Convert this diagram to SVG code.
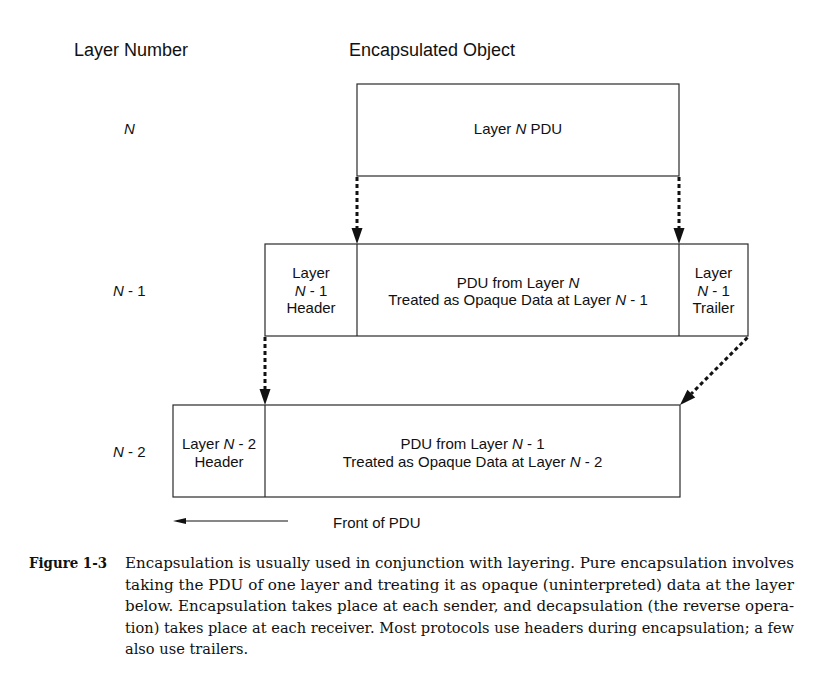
<svg xmlns="http://www.w3.org/2000/svg" width="820" height="679" viewBox="0 0 820 679">
<style>
  .bg { fill: #ffffff; }
  .box { fill: #ffffff; stroke: #2a2a2a; stroke-width: 1.2; }
  .div { stroke: #2a2a2a; stroke-width: 1.2; }
  .t { font-family: "Liberation Sans", Arial, sans-serif; font-size: 15px; fill: #111; }
  .h { font-family: "Liberation Sans", Arial, sans-serif; font-size: 18px; fill: #111; }
  .c { text-anchor: middle; }
  .i { font-style: italic; }
  .dot { fill: none; stroke: #111; stroke-width: 3; stroke-dasharray: 4 3; }
  .thin { fill: none; stroke: #111; stroke-width: 1.2; }
  .cap { font-family: "DejaVu Serif", "Liberation Serif", serif; font-size: 14.6px; fill: #111; }
  .capb { font-weight: bold; }
</style>
<defs>
  <marker id="head" markerUnits="userSpaceOnUse" markerWidth="16" markerHeight="12" refX="0" refY="5.5" orient="auto" overflow="visible">
    <path d="M0,0 L16,5.5 L0,11 Z" fill="#111"/>
  </marker>
  <marker id="small" markerUnits="userSpaceOnUse" markerWidth="13" markerHeight="7" refX="0" refY="3" orient="auto" overflow="visible">
    <path d="M0,0 L13,3 L0,6 Z" fill="#111"/>
  </marker>
</defs>
<rect class="bg" x="0" y="0" width="820" height="679"/>

<g id="headings">
  <text class="h" x="74" y="56">Layer Number</text>
  <text class="h" x="349" y="56">Encapsulated Object</text>
</g>

<g id="row-labels">
  <text class="t i" x="124" y="134">N</text>
  <text class="t" x="113" y="296"><tspan class="i">N</tspan> - 1</text>
  <text class="t" x="113" y="457"><tspan class="i">N</tspan> - 2</text>
</g>

<g id="layer-n">
  <rect class="box" x="357" y="84" width="322" height="92"/>
  <text class="t c" x="518" y="134">Layer <tspan class="i">N</tspan> PDU</text>
</g>

<g id="layer-n-1">
  <rect class="box" x="265" y="244" width="483" height="92"/>
  <line class="div" x1="357" y1="244" x2="357" y2="336"/>
  <line class="div" x1="679" y1="244" x2="679" y2="336"/>
  <text class="t c" x="311" y="278">Layer</text>
  <text class="t c" x="311" y="295.5"><tspan class="i">N</tspan> - 1</text>
  <text class="t c" x="311" y="313">Header</text>
  <text class="t c" x="518" y="287.5">PDU from Layer <tspan class="i">N</tspan></text>
  <text class="t c" x="518" y="305">Treated as Opaque Data at Layer <tspan class="i">N</tspan> - 1</text>
  <text class="t c" x="713.5" y="278">Layer</text>
  <text class="t c" x="713.5" y="295.5"><tspan class="i">N</tspan> - 1</text>
  <text class="t c" x="713.5" y="313">Trailer</text>
</g>

<g id="layer-n-2">
  <rect class="box" x="173" y="405" width="507" height="92"/>
  <line class="div" x1="265" y1="405" x2="265" y2="497"/>
  <text class="t c" x="219" y="449">Layer <tspan class="i">N</tspan> - 2</text>
  <text class="t c" x="219" y="466.5">Header</text>
  <text class="t c" x="472.5" y="449">PDU from Layer <tspan class="i">N</tspan> - 1</text>
  <text class="t c" x="472.5" y="466.5">Treated as Opaque Data at Layer <tspan class="i">N</tspan> - 2</text>
</g>

<g id="connectors">
  <line class="dot" x1="357" y1="177" x2="357" y2="228" marker-end="url(#head)"/>
  <line class="dot" x1="679" y1="177" x2="679" y2="228" marker-end="url(#head)"/>
  <line class="dot" x1="265" y1="337" x2="265" y2="389" marker-end="url(#head)"/>
  <line class="dot" x1="747.5" y1="337.5" x2="691.3" y2="393.7" marker-end="url(#head)"/>
</g>

<g id="front-of-pdu">
  <line class="thin" x1="288" y1="521" x2="186" y2="521" marker-end="url(#small)"/>
  <text class="t" x="333" y="528">Front of PDU</text>
</g>

<g id="caption">
  <text class="cap capb" x="29" y="568" textLength="78" lengthAdjust="spacingAndGlyphs">Figure 1-3</text>
  <text class="cap" x="125" y="568" textLength="669" lengthAdjust="spacingAndGlyphs">Encapsulation is usually used in conjunction with layering. Pure encapsulation involves</text>
  <text class="cap" x="125" y="589.5" textLength="669" lengthAdjust="spacingAndGlyphs">taking the PDU of one layer and treating it as opaque (uninterpreted) data at the layer</text>
  <text class="cap" x="125" y="611" textLength="669" lengthAdjust="spacingAndGlyphs">below. Encapsulation takes place at each sender, and decapsulation (the reverse opera-</text>
  <text class="cap" x="125" y="632.5" textLength="669" lengthAdjust="spacingAndGlyphs">tion) takes place at each receiver. Most protocols use headers during encapsulation; a few</text>
  <text class="cap" x="125" y="654">also use trailers.</text>
</g>
</svg>
